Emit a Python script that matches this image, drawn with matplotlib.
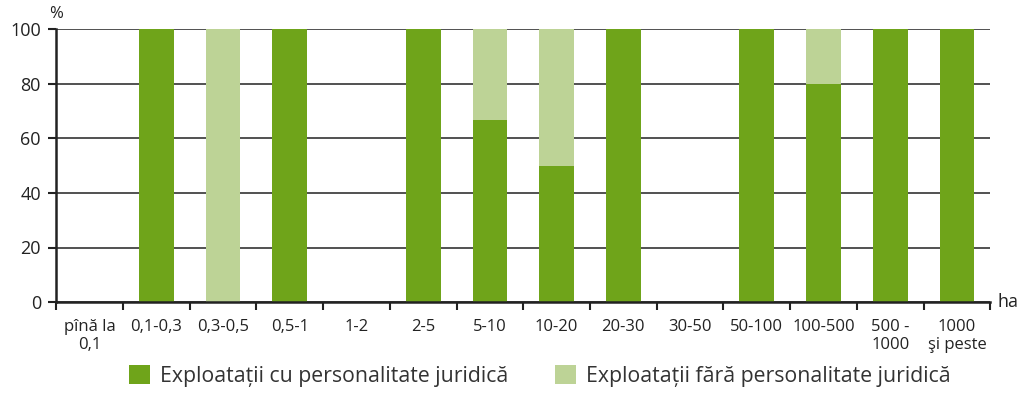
import matplotlib.pyplot as plt
import numpy as np

plt.rcParams['font.family'] = ['Open Sans', 'DejaVu Sans']

categories = ['pînă la\n0,1', '0,1-0,3', '0,3-0,5', '0,5-1', '1-2', '2-5', '5-10',
              '10-20', '20-30', '30-50', '50-100', '100-500', '500 -\n1000', '1000\nşi peste']
cu_pj = [0, 100, 0, 100, 0, 100, 66.7, 50, 100, 0, 100, 80, 100, 100]
fara_pj = [0, 0, 100, 0, 0, 0, 33.3, 50, 0, 0, 0, 20, 0, 0]
labels = ['Exploatații cu personalitate juridică', 'Exploatații fără personalitate juridică']

dark = '#6fa41a'
light = '#bdd396'

fig = plt.figure(figsize=(10.22, 3.96), dpi=100)
ax = fig.add_axes([0.055, 0.237, 0.914, 0.69])

x = np.arange(len(categories))
ax.bar(x, cu_pj, width=0.52, color=dark, label=labels[0], zorder=2)
ax.bar(x, fara_pj, width=0.52, bottom=cu_pj, color=light, label=labels[1], zorder=2)

ax.set_xlim(-0.5, len(categories) - 0.5)
ax.set_ylim(0, 100)
ax.set_yticks(range(0, 101, 20))
ax.yaxis.grid(True, color='#333333', linewidth=1.2, zorder=0)
ax.set_axisbelow(True)

ax.set_xticks(np.arange(-0.5, len(categories), 1))
ax.set_xticklabels([])
ax.set_xticks(x, minor=True)
ax.set_xticklabels(categories, minor=True, fontsize=12, color='#222222', linespacing=1.2)
ax.tick_params(axis='x', which='minor', length=0, pad=12)
ax.tick_params(axis='x', which='major', length=6, width=1.5, color='#222222')
ax.tick_params(axis='y', length=6, width=1.5, color='#222222', labelsize=13, labelcolor='#222222', pad=5)

for s in ['top', 'right']:
    ax.spines[s].set_visible(False)
for s in ['left', 'bottom']:
    ax.spines[s].set_linewidth(1.8)
    ax.spines[s].set_color('#222222')

ax.text(0.0, 1.025, '%', transform=ax.transAxes, fontsize=12, color='#222222', ha='center', va='bottom')
ax.text(1.008, 0.0, 'ha', transform=ax.transAxes, fontsize=13, color='#222222', ha='left', va='center')

fig.legend(loc='lower center', bbox_to_anchor=(0.528, -0.025), ncol=2, frameon=False,
           fontsize=15.3, handlelength=1.0, handleheight=1.0, columnspacing=2.2, handletextpad=0.45,
           labelcolor='#333333')

fig.savefig('out.png', dpi=100)
